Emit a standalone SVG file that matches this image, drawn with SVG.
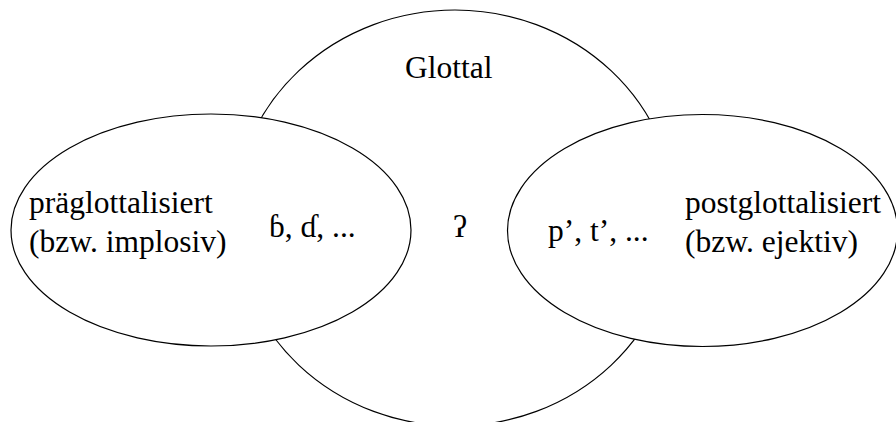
<svg xmlns="http://www.w3.org/2000/svg" width="896" height="422" viewBox="0 0 896 422">
<style>
.sh{fill:#fff;stroke:#000;stroke-width:1.2}
text{font-family:'Liberation Serif','Times New Roman',Times,'DejaVu Serif',serif;font-size:31.5px;fill:#000}
</style>
<rect width="896" height="422" fill="#fff"/>
<g id="glottal">
<ellipse class="sh" cx="455" cy="218" rx="221" ry="208"/>
<text x="405" y="78" font-family="Liberation Serif, serif">Glottal</text>
<text x="453" y="237" font-family="Liberation Serif, serif">ʔ</text>
</g>
<g id="praeglottalisiert">
<ellipse class="sh" cx="211" cy="230" rx="200" ry="116"/>
<text x="29" y="213" font-family="Liberation Serif, serif">präglottalisiert</text>
<text x="29" y="251.5" font-family="Liberation Serif, serif">(bzw. implosiv)</text>
<text x="269" y="237" font-family="Liberation Serif, serif">ɓ, ɗ, ...</text>
</g>
<g id="postglottalisiert">
<ellipse class="sh" cx="702.5" cy="230.5" rx="195" ry="116"/>
<text x="548" y="241" font-family="Liberation Serif, serif">p’, t’, ...</text>
<text x="685" y="213" font-family="Liberation Serif, serif">postglottalisiert</text>
<text x="685" y="251.5" font-family="Liberation Serif, serif">(bzw. ejektiv)</text>
</g>
</svg>
